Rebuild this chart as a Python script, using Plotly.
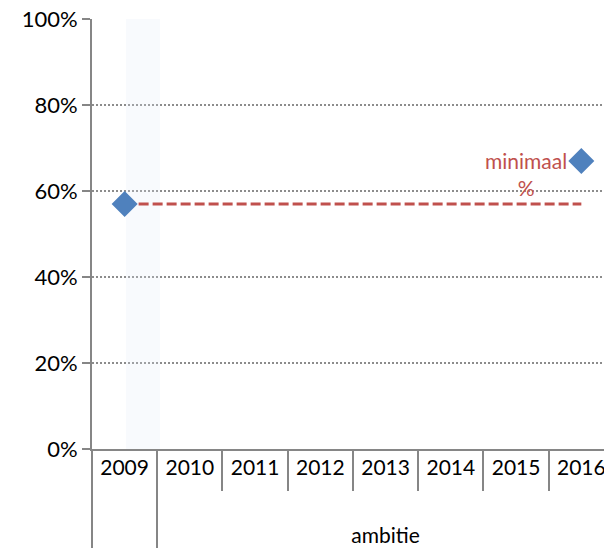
import plotly.graph_objects as go

years = ["2009", "2010", "2011", "2012", "2013", "2014", "2015", "2016"]
groups = ["", "ambitie", "ambitie", "ambitie", "ambitie", "ambitie", "ambitie", "ambitie"]

point_years = ["2009", "2016"]
point_groups = ["", "ambitie"]
point_values = [0.57, 0.67]

min_years = ["2009", "2016"]
min_groups = ["", "ambitie"]
min_values = [0.57, 0.57]

band_years = ["2009"]
band_groups = [""]
band_values = [1.0]

label_text = ["minimaal", "%"]

grey = "#868686"
red = "#C0504D"
blue = "#4F81BD"
font = "Lato, 'Open Sans', sans-serif"
LBL = 21      # visible x label size
AXF = 26      # axis font size (controls second-level spacing)


def yr(v):
    return f"<span style='font-size:{LBL}px'>{v}</span>"


def grp(v):
    return f"<br><span style='font-size:{LBL}px'>{v}</span>" if v else " "


def mx(gs, ys):
    return [[grp(g) for g in gs], [yr(y) for y in ys]]


fig = go.Figure()

# invisible trace to set all categories
fig.add_trace(go.Scatter(x=mx(groups, years), y=[None] * len(years), mode="markers",
                         showlegend=False, hoverinfo="skip"))

fig.add_trace(go.Bar(x=mx(band_groups, band_years), y=band_values, width=[0.52], offset=[0.02],
                     marker=dict(color="rgba(225,232,244,0.22)", line=dict(width=0)),
                     showlegend=False, hoverinfo="skip"))

fig.add_trace(go.Scatter(x=mx(min_groups, min_years), y=min_values, mode="lines",
                         line=dict(color=red, width=3, dash="10px,4px"), showlegend=False))

fig.add_trace(go.Scatter(x=mx(point_groups, point_years), y=point_values, mode="markers",
                         marker=dict(symbol="diamond", size=20, color=blue), showlegend=False))

fig.add_annotation(text="<br>".join(label_text), xref="paper", yref="y", x=(526 - 92) / 520, y=0.64,
                   xanchor="center", yanchor="middle",
                   showarrow=False, align="center",
                   font=dict(family=font, size=21, color=red))

# page body has an 8px margin, so the figure is 8px smaller and offset
fig.update_layout(
    width=604, height=541,
    margin=dict(l=84, r=0, t=11, b=100),
    paper_bgcolor="white", plot_bgcolor="white",
    font=dict(family=font, size=22, color="#000000"),
    bargap=0,
)
fig.update_xaxes(type="multicategory", range=[-0.5, 7.47],
                 showline=True, linecolor=grey, linewidth=2,
                 ticks="outside", ticklen=40, tickcolor=grey, tickwidth=2,
                 showdividers=True, dividercolor=grey, dividerwidth=2,
                 showgrid=False, tickfont=dict(size=AXF), automargin=False,
                 ticklabeloverflow="allow", ticklabelstandoff=-7)
fig.update_yaxes(range=[0, 1], tickvals=[0, 0.2, 0.4, 0.6, 0.8, 1.0], tickformat=".0%",
                 showline=True, linecolor=grey, linewidth=2, ticks="outside", ticklen=8,
                 tickcolor=grey, tickwidth=2, showgrid=True, gridcolor="#8c8c8c",
                 griddash="2px,2px", gridwidth=1.5, zeroline=False, tickfont=dict(size=22),
                 automargin=False, ticklabeloverflow="allow")

fig.write_html("out.html")
